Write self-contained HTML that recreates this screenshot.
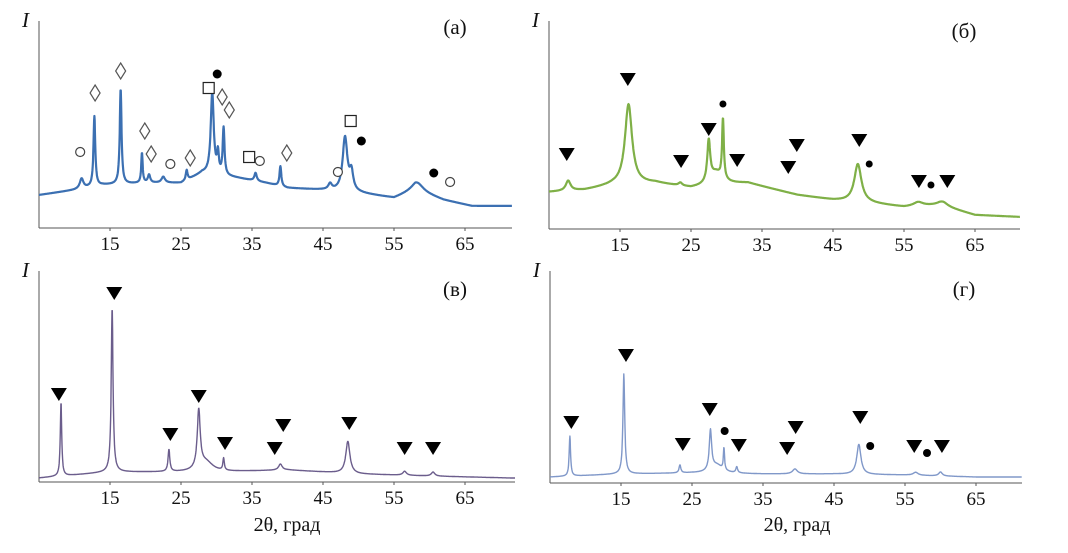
<!DOCTYPE html>
<html><head><meta charset="utf-8">
<style>
body{margin:0;background:#fff;}
svg{display:block;font-family:"Liberation Serif",serif;}
</style></head>
<body>
<svg id="fig" width="1068" height="553" viewBox="0 0 1068 553"></svg>
<script>
// ---------- data ----------
const tickLabels = [15, 25, 35, 45, 55, 65];

// panel (а)
const baseA_deg = [5, 10, 14, 20, 25, 28, 33, 37, 40, 45, 50, 55, 58, 62, 66, 71.5];
const baseA_I   = [33, 38, 43, 45, 45, 55, 50, 45, 40, 38, 35, 30, 38, 28, 22, 22];
const peakA_pos = [11, 12.8, 16.5, 19.5, 20.5, 22.5, 25.8, 29.4, 30.2, 31, 35.5, 39, 46, 48.1, 49, 58.3];
const peakA_h   = [10, 70, 95, 30, 8, 6, 10, 82, 20, 47, 8, 20, 6, 54, 18, 8];
const peakA_w   = [0.3, 0.15, 0.15, 0.12, 0.2, 0.3, 0.15, 0.25, 0.15, 0.15, 0.2, 0.15, 0.3, 0.4, 0.3, 1];
const markA_type = ['o','d','d','d','d','o','d','s','f','d','d','s','o','d','o','s','f','f','o'];
const markA_deg  = [10.8,12.9,16.5,19.9,20.8,23.5,26.3,28.9,30.1,30.8,31.8,34.6,36.1,39.9,47.1,48.9,50.4,60.6,62.9];
const markA_I    = [76,135,157,97,74,64,70,140,154,131,118,71,67,75,56,107,87,55,46];

// panel (б)
const baseB_deg = [5, 10, 14, 20, 25, 30, 33, 40, 45, 50, 55, 60, 65, 71.5];
const baseB_I   = [37, 39, 44, 46, 41, 45, 46, 34, 29, 26, 22, 24, 14, 12];
const peakB_pos = [7.7, 16.2, 23.5, 27.5, 28.5, 29.5, 48.5, 57, 60.5];
const peakB_h   = [10, 80, 3, 41, 12, 60, 38, 4, 4];
const peakB_w   = [0.4, 0.6, 0.3, 0.25, 1, 0.15, 0.6, 0.8, 0.8];
const markB_type = ['t','t','f','t','t','t','t','t','t','f','t','f','t'];
const markB_deg  = [7.5,16.1,29.5,27.5,23.6,31.5,39.9,38.7,48.7,50.1,57.1,58.8,61.1];
const markB_I    = [75,150,125,100,68,69,84,62,89,65,48,44,48];

// panel (в)
const baseC_deg = [5, 15, 20, 30, 40, 50, 60, 71.5];
const baseC_I   = [4, 10, 10, 10, 12, 8, 6, 4];
const peakC_pos = [8.1, 15.3, 23.3, 27.5, 28.5, 31, 39, 48.5, 56.5, 60.5];
const peakC_h   = [74, 164, 22, 58, 10, 12, 6, 32, 4, 4];
const peakC_w   = [0.12, 0.15, 0.15, 0.25, 1.2, 0.12, 0.3, 0.35, 0.3, 0.3];
const markC_type = ['t','t','t','t','t','t','t','t','t','t'];
const markC_deg  = [7.8,15.6,23.5,27.5,31.2,38.2,39.4,48.7,56.5,60.5];
const markC_I    = [88,189,48,86,39,34,57,59,34,34];

// panel (г)
const baseD_deg = [5, 15, 25, 35, 45, 55, 65, 71.5];
const baseD_I   = [6, 9, 10, 9, 9, 8, 6, 6];
const peakD_pos = [7.8, 15.4, 23.3, 27.6, 28.5, 29.5, 31.3, 39.5, 48.5, 56.5, 60];
const peakD_h   = [40, 100, 8, 40, 8, 22, 6, 5, 30, 3, 4];
const peakD_w   = [0.12, 0.15, 0.15, 0.2, 1, 0.1, 0.15, 0.4, 0.35, 0.4, 0.3];
const markD_type = ['t','t','t','t','f','t','t','t','t','f','t','f','t'];
const markD_deg  = [8,15.7,23.7,27.5,29.6,31.6,38.4,39.6,48.7,50.1,56.3,58.1,60.2];
const markD_I    = [61,128,39,74,52,38,35,56,66,37,37,30,37];

// ---------- drawing ----------
const NS = 'http://www.w3.org/2000/svg';
const svg = document.getElementById('fig');
function mk(tag, attrs, parent){
  const e = document.createElementNS(NS, tag);
  for (const k in attrs) e.setAttribute(k, attrs[k]);
  (parent || svg).appendChild(e);
  return e;
}
function interp(xs, ys, x){
  if (x <= xs[0]) return ys[0];
  for (let i = 1; i < xs.length; i++) if (x <= xs[i]) {
    const t = (x - xs[i-1]) / (xs[i] - xs[i-1]);
    return ys[i-1] + t * (ys[i] - ys[i-1]);
  }
  return ys[ys.length-1];
}
function drawPanel(cfg){
  const g = mk('g', {});
  
  
  const xs = d => cfg.left + (d - 5) * 7.1;
  const ys = I => cfg.bottom - I;
  // axes
  const ya = mk('line', {x1:cfg.left, y1:cfg.top, x2:cfg.left, y2:cfg.bottom, stroke:'#555', 'stroke-width':1}, g);
  
  
  const xa = mk('line', {x1:cfg.left, y1:cfg.bottom, x2:cfg.right, y2:cfg.bottom, stroke:'#555', 'stroke-width':1}, g);
  
  
  tickLabels.forEach(v => {
    const tk = mk('line', {x1:xs(v), y1:cfg.bottom, x2:xs(v), y2:cfg.bottom+3, stroke:'#555'}, g);
    
    
    const t = mk('text', {x:xs(v), y:cfg.bottom+22, 'text-anchor':'middle', 'font-size':19, fill:'#111'}, g);
    t.textContent = v;
    
    
  });
  // curve
  let dpath = '';
  const dmax = 5 + (cfg.right - cfg.left) / 7.1;
  for (let d = 5; d <= dmax; d += 0.04) {
    let I = interp(cfg.bd, cfg.bi, d);
    for (let k = 0; k < cfg.pp.length; k++) {
      const u = (d - cfg.pp[k]) / cfg.pw[k];
      I += cfg.ph[k] / (1 + u*u);
    }
    dpath += (dpath ? 'L' : 'M') + xs(d).toFixed(1) + ',' + ys(I).toFixed(1);
  }
  const p = mk('path', {d:dpath, fill:'none', stroke:cfg.color, 'stroke-width':cfg.sw, 'stroke-linejoin':'round'}, g);
  
  
  // markers
  cfg.mt.forEach((t, i) => {
    const x = xs(cfg.md[i]), y = ys(cfg.mi[i]);
    let m;
    if (t === 't') m = mk('path', {d:`M${x-8},${y-6}L${x+8},${y-6}L${x},${y+7}Z`, fill:'#000'}, g);
    else if (t === 'd') m = mk('path', {d:`M${x},${y-8}L${x+5},${y}L${x},${y+8}L${x-5},${y}Z`, fill:'#fff', stroke:'#555', 'stroke-width':1.2}, g);
    else if (t === 's') m = mk('rect', {x:x-5.5, y:y-5.5, width:11, height:11, fill:'#fff', stroke:'#222', 'stroke-width':1.2}, g);
    else if (t === 'o') m = mk('circle', {cx:x, cy:y, r:4.5, fill:'#fff', stroke:'#444', 'stroke-width':1.2}, g);
    else m = mk('circle', {cx:x, cy:y, r:cfg.fr, fill:'#000'}, g);
    
    
  });
  const yl = mk('text', {x:cfg.left-17, y:cfg.top+6, 'font-size':21, 'font-style':'italic', fill:'#111'}, g);
  yl.textContent = 'I';
  
  
  const pl = mk('text', {x:cfg.lx, y:cfg.ly, 'font-size':21, 'text-anchor':'middle', fill:'#111'}, g);
  pl.textContent = cfg.label;
  
  
  if (cfg.xlabel) {
    const xl = mk('text', {x:cfg.xlx, y:531, 'font-size':20, 'text-anchor':'middle', fill:'#111'}, g);
    xl.textContent = '2θ, град';
    
    
  }
}
drawPanel({name:'panel-a', left:39, top:21, bottom:228, right:512, color:'#3c70b2', sw:2.2, fr:4.5,
  bd:baseA_deg, bi:baseA_I, pp:peakA_pos, ph:peakA_h, pw:peakA_w, mt:markA_type, md:markA_deg, mi:markA_I,
  label:'(а)', lx:455, ly:34});
drawPanel({name:'panel-b', left:549, top:21, bottom:229, right:1020, color:'#7fb047', sw:2.2, fr:3.5,
  bd:baseB_deg, bi:baseB_I, pp:peakB_pos, ph:peakB_h, pw:peakB_w, mt:markB_type, md:markB_deg, mi:markB_I,
  label:'(б)', lx:964, ly:38});
drawPanel({name:'panel-v', left:39, top:271, bottom:482, right:515, color:'#6b5d8c', sw:1.4, fr:4.5,
  bd:baseC_deg, bi:baseC_I, pp:peakC_pos, ph:peakC_h, pw:peakC_w, mt:markC_type, md:markC_deg, mi:markC_I,
  label:'(в)', lx:455, ly:296, xlabel:true, xlx:287});
drawPanel({name:'panel-g', left:550, top:271, bottom:483, right:1022, color:'#8098c9', sw:1.4, fr:4,
  bd:baseD_deg, bi:baseD_I, pp:peakD_pos, ph:peakD_h, pw:peakD_w, mt:markD_type, md:markD_deg, mi:markD_I,
  label:'(г)', lx:964, ly:296, xlabel:true, xlx:797});
</script>
</body></html>
